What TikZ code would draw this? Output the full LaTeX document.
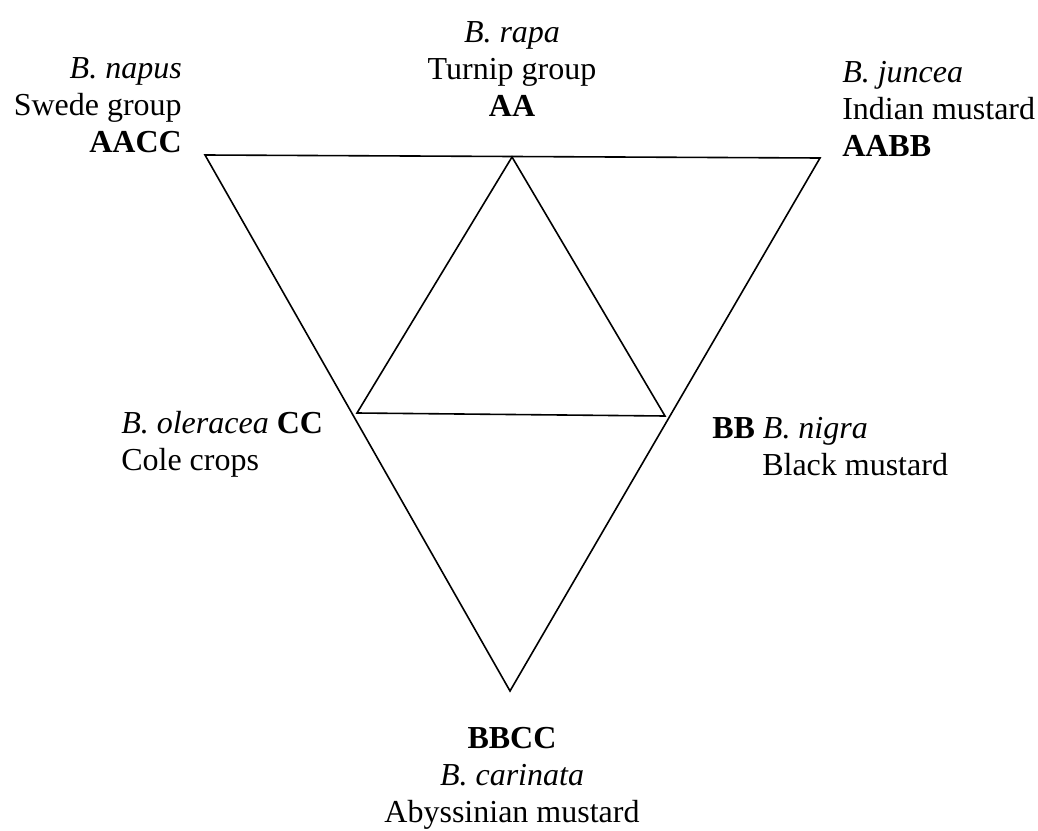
\documentclass[tikz,border=0pt]{standalone}
\usepackage{fontspec}
\setmainfont{Liberation Serif}
\usetikzlibrary{positioning}

\begin{document}
\begin{tikzpicture}[x=0.75pt,y=-0.75pt]
\tikzset{tri/.style={draw=black,line width=1.2pt,line join=miter},
         lbl/.style={inner sep=0pt,font=\fontsize{24}{27.75}\selectfont}}
\useasboundingbox (0,0) rectangle (1038,831);
% outer triangle: the three amphidiploids
\coordinate (napus) at (205,155);
\coordinate (juncea) at (820,158);
\coordinate (carinata) at (510,691);
% inner triangle: the three diploids
\coordinate (rapa) at (512,157);
\coordinate (oleracea) at (357,413);
\coordinate (nigra) at (665,416);
\draw[tri] (napus) -- (juncea) -- (carinata) -- cycle;
\draw[tri] (rapa) -- (oleracea) -- (nigra) -- cycle;
\node[lbl,align=center,anchor=south] (rapaT) at (512,117) {\textit{B. rapa}\\Turnip group\\\textbf{AA}};
\node[lbl,align=right,anchor=south east] (napusT) at (182,153) {\textit{B. napus}\\Swede group\\\textbf{AACC}};
\node[lbl,align=left,anchor=south west] (junceaT) at (842,157) {\textit{B. juncea}\\Indian mustard\\\textbf{AABB}};
\node[lbl,align=left,anchor=north west] (oleraceaT) at (121,411) {\textit{B. oleracea} \textbf{CC}\\Cole crops};
\node[lbl,align=left,anchor=north west] (nigraT) at (712,417) {\textbf{BB} \textit{B. nigra}\\\hspace*{37.5pt}Black mustard};
\node[lbl,align=center,anchor=south] (carinataT) at (512,830) {\textbf{BBCC}\\\textit{B. carinata}\\Abyssinian mustard};
\end{tikzpicture}
\end{document}
